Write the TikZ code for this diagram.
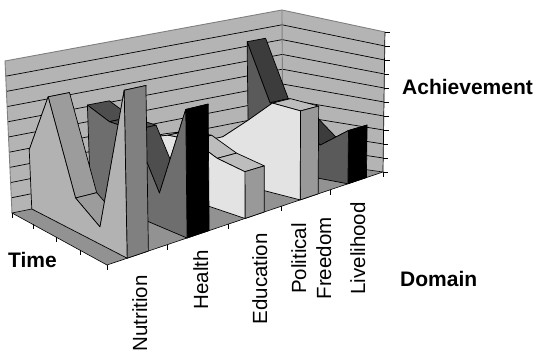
\documentclass[tikz,border=0pt]{standalone}
\usepackage{fontspec}
\setmainfont{Liberation Sans}
\definecolor{wallgrey}{HTML}{B4B4B4}
\definecolor{floorgrey}{HTML}{929292}
\definecolor{wallborder}{HTML}{808080}
\definecolor{nutside}{HTML}{B2B2B2}
\definecolor{nuttop}{HTML}{9C9C9C}
\definecolor{nutfront}{HTML}{808080}
\definecolor{heaside}{HTML}{6E6E6E}
\definecolor{heatop}{HTML}{4E4E4E}
\definecolor{heafront}{HTML}{000000}
\definecolor{eduside}{HTML}{E3E3E3}
\definecolor{edutop}{HTML}{BDBDBD}
\definecolor{edufront}{HTML}{999999}
\definecolor{liveside}{HTML}{5A5A5A}
\definecolor{livetop}{HTML}{3C3C3C}
\definecolor{livefront}{HTML}{000000}
% one ribbon of the 3D area chart: name, near s, far s, five heights, colour prefix
\newcommand\arearibbon[9]{%
  \foreach \ci/\ct/\ch in {0/0/#4,1/0.22/#5,2/0.47/#6,3/0.72/#7,4/1/#8}{%
    \coordinate (#1n\ci) at ({px(#2,\ct,\ch)},{py(#2,\ct,\ch)});
    \coordinate (#1f\ci) at ({px(#3,\ct,\ch)},{py(#3,\ct,\ch)});
  }
  \coordinate (#1nb0) at ({px(#2,0,0)},{py(#2,0,0)});
  \coordinate (#1nb4) at ({px(#2,1,0)},{py(#2,1,0)});
  \coordinate (#1fb4) at ({px(#3,1,0)},{py(#3,1,0)});
  \foreach \ci [evaluate=\ci as \cj using int(\ci+1)] in {0,...,3}{%
    \filldraw[face,fill=#9top] (#1n\ci) -- (#1n\cj) -- (#1f\cj) -- (#1f\ci) -- cycle;
  }
  \filldraw[face,fill=#9front] (#1nb4) -- (#1fb4) -- (#1f4) -- (#1n4) -- cycle;
  \filldraw[face,fill=#9side] (#1nb0) -- (#1n0) -- (#1n1) -- (#1n2) -- (#1n3) -- (#1n4) -- (#1nb4) -- cycle;
}
\begin{document}
\begin{tikzpicture}[x=1pt,y=-1pt,
  declare function={
    fx(\su,\tv)=12+271*\su+95*\tv+5*\su*\tv;
    fy(\su,\tv)=213-55*\su+52*\tv-38*\su*\tv;
    hh(\su,\tv)=152-4*\su+20*\tv-28*\su*\tv;
    ll(\su,\tv)=-0.046+0.039*\su+0.026*\tv-0.005*\su*\tv;
    px(\su,\tv,\hw)=fx(\su,\tv)+ll(\su,\tv)*hh(\su,\tv)*\hw;
    py(\su,\tv,\hw)=fy(\su,\tv)-hh(\su,\tv)*\hw;
  },
  face/.style={draw=black,line width=0.7pt,line join=round},
  gridline/.style={draw=black,line width=0.7pt},
  edgeline/.style={draw=wallborder,line width=0.9pt},
  tickline/.style={draw=black,line width=0.7pt},
  axistitle/.style={font=\fontsize{21}{25}\selectfont\bfseries,inner sep=0pt,anchor=base west},
  catlabel/.style={font=\fontsize{20.5}{24}\selectfont,inner sep=0pt,rotate=90,anchor=base east},
]
\useasboundingbox (0,0) rectangle (536,352);

% corners of the chart box
\coordinate (A)  at ({px(0,0,0)},{py(0,0,0)});
\coordinate (B)  at ({px(0,1,0)},{py(0,1,0)});
\coordinate (C)  at ({px(1,1,0)},{py(1,1,0)});
\coordinate (D)  at ({px(1,0,0)},{py(1,0,0)});
\coordinate (At) at ({px(0,0,1)},{py(0,0,1)});
\coordinate (Ct) at ({px(1,1,1)},{py(1,1,1)});
\coordinate (Dt) at ({px(1,0,1)},{py(1,0,1)});

% walls and floor
\fill[wallgrey] (A) -- (At) -- (Dt) -- (D) -- cycle;
\fill[wallgrey] (D) -- (Dt) -- (Ct) -- (C) -- cycle;
\foreach \k in {1,...,9}{%
  \draw[gridline] ({px(0,0,\k/10)},{py(0,0,\k/10)}) -- ({px(1,0,\k/10)},{py(1,0,\k/10)})
                  -- ({px(1,1,\k/10)},{py(1,1,\k/10)});
}
\draw[edgeline] (A) -- (At) -- (Dt) -- (Ct);
\draw[edgeline] (Dt) -- (D);
\filldraw[fill=floorgrey,draw=black,line width=0.6pt] (A) -- (B) -- (C) -- (D) -- cycle;

% value axis on the right wall
\draw[tickline] (C) -- (Ct);
\foreach \k in {0,...,10}{%
  \draw[tickline] ({px(1,1,\k/10)},{py(1,1,\k/10)}) -- ++(5,0);
}

% series, far to near
\arearibbon{liv}{0.873}{0.94}{0.83}{0.45}{0.38}{0.23}{0.37}{live}
\arearibbon{pol}{0.70}{0.765}{0.22}{0.29}{0.44}{0.60}{0.595}{edu}
\arearibbon{edu}{0.50}{0.57}{0.32}{0.38}{0.40}{0.33}{0.30}{edu}
\arearibbon{hea}{0.29}{0.37}{0.61}{0.55}{0.55}{0.21}{0.79}{hea}
\arearibbon{nut}{0.073}{0.15}{0.39}{0.79}{0.213}{0.106}{0.99}{nut}

% category ticks along the floor edges
\foreach \tv in {0,0.22,0.47,0.72,1}{%
  \draw[tickline] ({px(0,\tv,0)},{py(0,\tv,0)}) -- ++(0,5);
}
\foreach \su in {0.22,0.44,0.63,0.81,1}{%
  \draw[tickline] ({px(\su,1,0)},{py(\su,1,0)}) -- ++(0,5);
}

% axis titles and category labels
\node[axistitle] (achievement) at (402,95) {Achievement};
\node[axistitle] (time) at (8,268) {Time};
\node[axistitle] (domain) at (400,287) {Domain};
\node[catlabel] (nutrition) at (147,275) {Nutrition};
\node[catlabel] (health) at (208,250) {Health};
\node[catlabel] (education) at (267,233) {Education};
\node[catlabel,anchor=base] (political) at (306,258.5) {Political};
\node[catlabel,anchor=base] (freedom) at (331,258.5) {Freedom};
\node[catlabel] (livelihood) at (365,202) {Livelihood};
\end{tikzpicture}
\end{document}
